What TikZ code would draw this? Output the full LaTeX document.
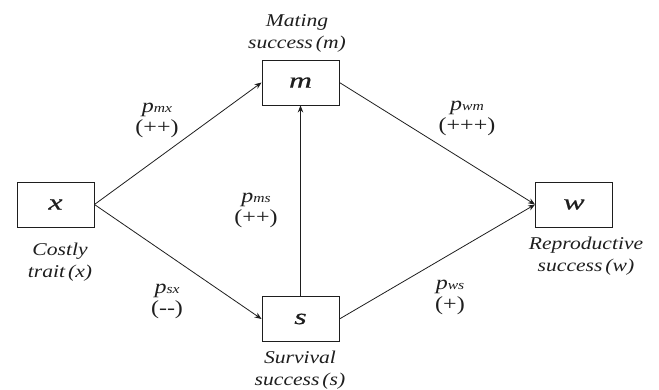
\documentclass[tikz,border=0pt]{standalone}
\usepackage{fontspec}
\setmainfont{Liberation Serif}
\newfontfamily\lab[FakeStretch=1.2]{Liberation Serif}
\newfontfamily\boxf[FakeStretch=1.45,FakeBold=0.6]{Liberation Serif}
\usetikzlibrary{arrows.meta}
\definecolor{ink}{HTML}{1E1E1E}
\tikzset{
  var/.style={draw=ink, line width=0.9pt, minimum width=77pt, minimum height=45pt, inner sep=0pt,
    font=\boxf\fontsize{22}{22}\selectfont\itshape, text=ink},
  captxt/.style={align=center, font=\lab\fontsize{18}{22}\selectfont\itshape, text=ink, inner sep=0pt},
  coef/.style={align=center, font=\lab\fontsize{20}{21}\selectfont, text=ink, inner sep=0pt},
  conn/.style={draw=ink, line width=0.8pt, -{Stealth[length=7pt,width=5.5pt]}}
}
\newcommand{\pp}[2]{\textit{p}{\fontsize{13}{13}\selectfont\textit{#1}}\\(#2)}
\begin{document}
\begin{tikzpicture}[x=1pt,y=-1pt]
\useasboundingbox (0,0) rectangle (659,390);
\node[var] (x) at (55.5,204.5) {x};
\node[var] (m) at (300.5,82.5) {m};
\node[var] (s) at (300.5,319) {s};
\node[var] (w) at (574,204.5) {w};

\draw[conn] (x.east) -- (m.west);
\draw[conn] (x.east) -- (s.west);
\draw[conn] (m.east) -- (w.west);
\draw[conn] (s.east) -- (w.west);
\draw[conn] (s.north) -- (m.south);

\node[captxt] (lm) at (297,33) {Mating\\success\,(m)};
\node[captxt] (lx) at (60,262) {Costly\\trait\,(x)};
\node[captxt] (ls) at (300,370) {Survival\\success\,(s)};
\node[captxt] (lw) at (586,256) {Reproductive\\success\,(w)};

\node[coef] (cmx) at (157,120) {\pp{mx}{++}};
\node[coef] (cwm) at (467,118) {\pp{wm}{+++}};
\node[coef] (cms) at (256,210) {\pp{ms}{++}};
\node[coef] (csx) at (167,301) {\pp{sx}{-{}-}};
\node[coef] (cws) at (450,297) {\pp{ws}{+}};
\end{tikzpicture}
\end{document}
